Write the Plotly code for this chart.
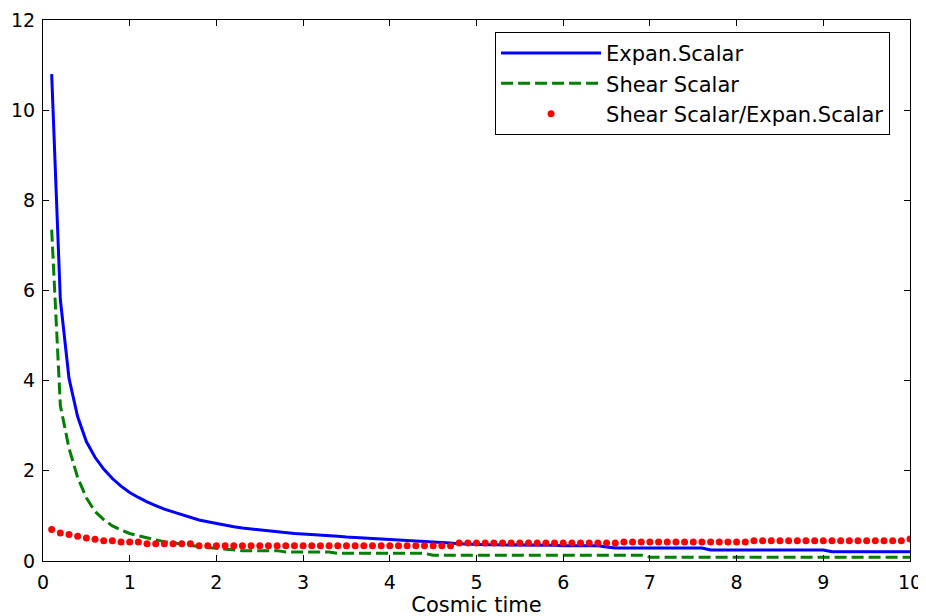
import plotly.graph_objects as go

t = [round(0.1 * i, 1) for i in range(1, 101)]

expan_scalar = [
    10.8, 5.8, 4.05, 3.2, 2.65, 2.3, 2.04, 1.83, 1.66, 1.52,
    1.41, 1.31, 1.23, 1.15, 1.09, 1.03, 0.97, 0.91, 0.87, 0.83,
    0.80, 0.76, 0.73, 0.71, 0.69, 0.66, 0.64, 0.62, 0.61, 0.60,
    0.59, 0.58, 0.56, 0.55, 0.53, 0.52, 0.50, 0.49, 0.48, 0.47,
    0.46, 0.45, 0.44, 0.43, 0.43, 0.42, 0.40, 0.38, 0.37, 0.37,
    0.36, 0.36, 0.36, 0.36, 0.35, 0.35, 0.35, 0.35, 0.35, 0.34,
    0.34, 0.34, 0.34, 0.34, 0.31, 0.29, 0.29, 0.29, 0.29, 0.29,
    0.29, 0.29, 0.29, 0.29, 0.29, 0.29, 0.245, 0.245, 0.245, 0.245,
    0.245, 0.245, 0.245, 0.245, 0.245, 0.245, 0.245, 0.245, 0.245, 0.245,
    0.205, 0.205, 0.205, 0.205, 0.205, 0.205, 0.205, 0.205, 0.205, 0.205,
]

shear_scalar = [
    7.35, 3.45, 2.5, 1.85, 1.4, 1.1, 0.92, 0.78, 0.69, 0.61,
    0.56, 0.51, 0.47, 0.43, 0.40, 0.37, 0.34, 0.32, 0.30, 0.28,
    0.27, 0.25, 0.23, 0.23, 0.23, 0.23, 0.23, 0.20, 0.20, 0.20,
    0.20, 0.20, 0.20, 0.17, 0.17, 0.17, 0.17, 0.17, 0.17, 0.17,
    0.17, 0.17, 0.17, 0.17, 0.13, 0.13, 0.13, 0.13, 0.13, 0.13,
    0.13, 0.13, 0.13, 0.13, 0.13, 0.13, 0.13, 0.13, 0.13, 0.13,
    0.13, 0.13, 0.13, 0.13, 0.13, 0.13, 0.13, 0.13, 0.13, 0.085,
    0.085, 0.085, 0.085, 0.085, 0.085, 0.085, 0.085, 0.085, 0.085, 0.085,
    0.085, 0.085, 0.085, 0.085, 0.085, 0.085, 0.085, 0.085, 0.085, 0.085,
    0.085, 0.085, 0.085, 0.085, 0.085, 0.085, 0.085, 0.085, 0.085, 0.085,
]

ratio = [
    0.70, 0.62, 0.59, 0.55, 0.51, 0.48, 0.45, 0.45, 0.42, 0.42,
    0.42, 0.38, 0.38, 0.38, 0.38, 0.38, 0.38, 0.34, 0.34, 0.34,
    0.34, 0.34, 0.34, 0.34, 0.34, 0.34, 0.34, 0.34, 0.34, 0.34,
    0.34, 0.34, 0.34, 0.34, 0.34, 0.34, 0.34, 0.34, 0.34, 0.34,
    0.34, 0.34, 0.34, 0.34, 0.34, 0.34, 0.34, 0.40, 0.40, 0.40,
    0.40, 0.40, 0.40, 0.40, 0.40, 0.40, 0.40, 0.40, 0.40, 0.40,
    0.40, 0.40, 0.40, 0.40, 0.40, 0.40, 0.42, 0.42, 0.42, 0.42,
    0.42, 0.42, 0.42, 0.42, 0.42, 0.42, 0.42, 0.42, 0.42, 0.42,
    0.42, 0.45, 0.45, 0.45, 0.45, 0.45, 0.45, 0.45, 0.45, 0.45,
    0.45, 0.45, 0.45, 0.45, 0.45, 0.45, 0.45, 0.45, 0.45, 0.49,
]

names = ["Expan.Scalar", "Shear Scalar", "Shear Scalar/Expan.Scalar"]
x_title = "Cosmic time"

FONT = "DejaVu Sans, Liberation Sans, Arial, sans-serif"

fig = go.Figure()
fig.add_trace(go.Scatter(x=t, y=expan_scalar, mode="lines", name=names[0],
                         line=dict(color="#0000FF", width=3)))
fig.add_trace(go.Scatter(x=t, y=shear_scalar, mode="lines", name=names[1],
                         line=dict(color="#008000", width=3, dash="12px,5px")))
fig.add_trace(go.Scatter(x=t, y=ratio, mode="markers", name=names[2],
                         marker=dict(color="#FF0000", size=7)))

axis_common = dict(
    showline=True, linecolor="black", linewidth=1, mirror="ticks",
    ticks="inside", ticklen=6, tickcolor="black", tickwidth=1,
    showgrid=False, zeroline=False, automargin=False,
    tickfont=dict(family=FONT, size=19, color="black"),
)

fig.update_layout(
    width=926, height=616,
    margin=dict(l=35, r=24, t=12, b=63),
    paper_bgcolor="white", plot_bgcolor="white",
    font=dict(family=FONT, color="black"),
    xaxis=dict(range=[0, 10], dtick=1, tick0=0, ticklabelstandoff=4,
               title=dict(text=x_title, font=dict(family=FONT, size=21), standoff=2),
               **axis_common),
    yaxis=dict(range=[0, 12], dtick=2, tick0=0, ticklabelstandoff=3, **axis_common),
    legend=dict(x=0.977, y=0.978, xanchor="right", yanchor="top",
                bgcolor="white", bordercolor="black", borderwidth=1,
                font=dict(family=FONT, size=21, color="black"),
                itemwidth=100, tracegroupgap=0),
)

fig.write_html("out.html")
